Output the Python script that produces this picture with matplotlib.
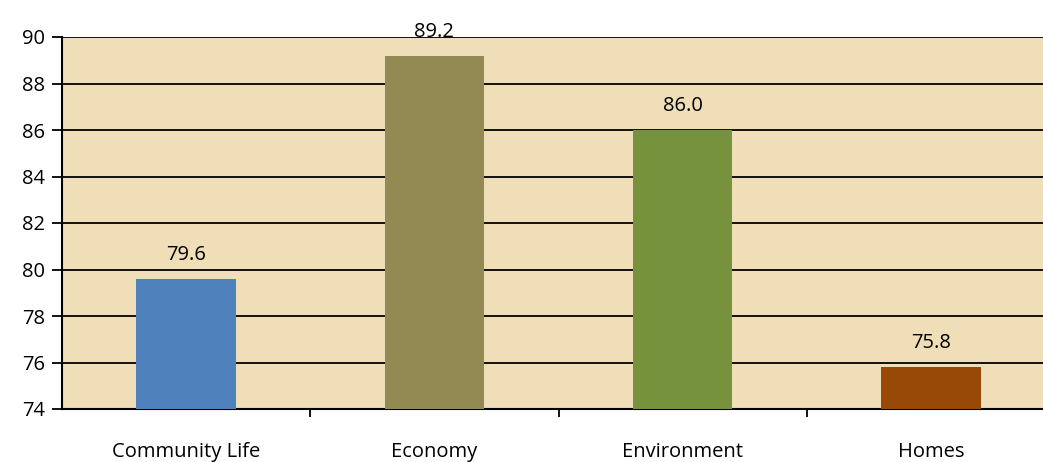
import matplotlib
matplotlib.use("Agg")
import matplotlib.pyplot as plt
from matplotlib.ticker import FixedLocator

categories = ["Community Life", "Economy", "Environment", "Homes"]
values = [79.6, 89.2, 86.0, 75.8]
colors = ["#4F81BD", "#938953", "#76923C", "#984807"]
yticks = [74, 76, 78, 80, 82, 84, 86, 88, 90]

plt.rcParams['font.family'] = ['Open Sans', 'DejaVu Sans']

fig = plt.figure(figsize=(10.43, 4.62), dpi=100)
ax = fig.add_axes([62/1043, 1-409/462, 993/1043, (409-37)/462])
ax.set_facecolor("#EFDEB8")

x = list(range(len(categories)))
ax.bar(x, values, width=0.40, color=colors, bottom=0, zorder=3)
ax.set_ylim(74, 90)
ax.set_xlim(-0.5, len(categories) - 0.5)
ax.set_yticks(yticks)
ax.yaxis.grid(True, color="black", linewidth=1.3, zorder=1)
ax.set_axisbelow(True)

for xi, v in zip(x, values):
    ax.text(xi, v + 0.6, f"{v:.1f}", ha="center", va="bottom", fontsize=14.5,
            clip_on=False, zorder=4)

ax.set_xticks([i + 0.5 for i in range(len(categories) - 1)])
ax.set_xticklabels([])
ax.xaxis.set_minor_locator(FixedLocator(x))
ax.set_xticklabels(categories, minor=True)
ax.tick_params(axis="x", which="minor", length=0, pad=24, labelsize=14.5)
ax.tick_params(axis="x", which="major", length=6, width=1.3, direction="out")
ax.tick_params(axis="y", length=7, width=1.3, labelsize=14.5, pad=5)

for s in ["top", "right"]:
    ax.spines[s].set_visible(False)
ax.spines["left"].set_linewidth(1.5)
ax.spines["bottom"].set_linewidth(1.5)

fig.savefig("out.png", dpi=100)
